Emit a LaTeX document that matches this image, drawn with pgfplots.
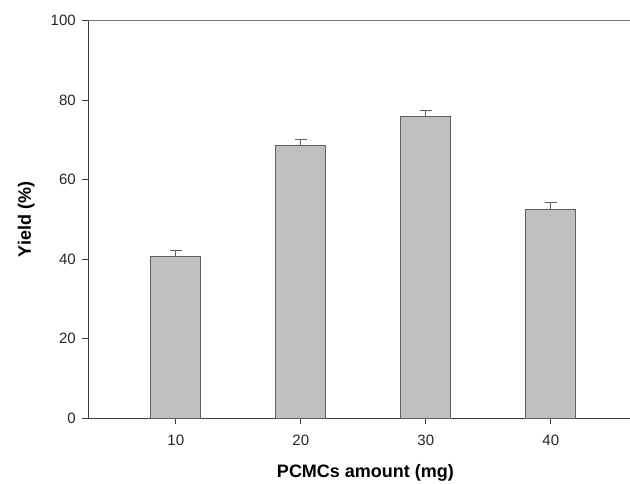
\documentclass[border=0pt]{standalone}
\usepackage{pgfplots}
\pgfplotsset{compat=1.18}
\usepackage{fontspec}
\setmainfont{Liberation Sans}
\definecolor{barfill}{RGB}{192,191,190}
\definecolor{baredge}{RGB}{95,95,95}
\definecolor{axline}{RGB}{60,60,60}
\begin{document}
\begin{tikzpicture}
\begin{axis}[
  name=ax,
  scale only axis,
  width=541.7pt, height=397.6pt,
  xmin=3, xmax=46.34,
  ymin=0, ymax=100,
  axis x line*=bottom,
  axis y line*=left,
  axis line style={axline, line width=0.9pt},
  xtick={10,20,30,40},
  ytick={0,20,40,60,80,100},
  tick align=outside,
  major tick length=6pt,
  tick style={axline, line width=0.9pt},
  every tick label/.append style={font=\fontsize{15}{17}\selectfont, text=black!85},
  xticklabel style={yshift=-7pt},
  yticklabel style={xshift=-3pt},
  /pgf/number format/assume math mode=true,
  xlabel={\textbf{PCMCs amount (mg)}},
  ylabel={\textbf{Yield (\%)}},
  xlabel style={font=\fontsize{18}{20}\selectfont, at={(axis description cs:0.5117,-0.1376)}, anchor=center},
  ylabel style={font=\fontsize{18}{20}\selectfont, at={(axis description cs:-0.1145,0.5)}, anchor=center},
  clip=false,
]
\addplot[ybar, bar width=50pt, fill=barfill, draw=baredge, line width=0.8pt,
  error bars/.cd, y dir=plus, y explicit,
  error bar style={baredge, line width=0.9pt},
  error mark options={rotate=90, mark size=6pt, baredge, line width=0.9pt}]
  coordinates {
    (10,40.8) +- (0,1.3)
    (20,68.7) +- (0,1.4)
    (30,76.0) +- (0,1.4)
    (40,52.5) +- (0,1.7)
  };
\draw[axline!70, line width=1pt] (rel axis cs:0,1) -- (rel axis cs:1,1);
\end{axis}
\pgfresetboundingbox
\path ([xshift=-88.3pt,yshift=20.7pt]ax.north west) rectangle ([yshift=-64.7pt]ax.south east);
\end{tikzpicture}
\end{document}
